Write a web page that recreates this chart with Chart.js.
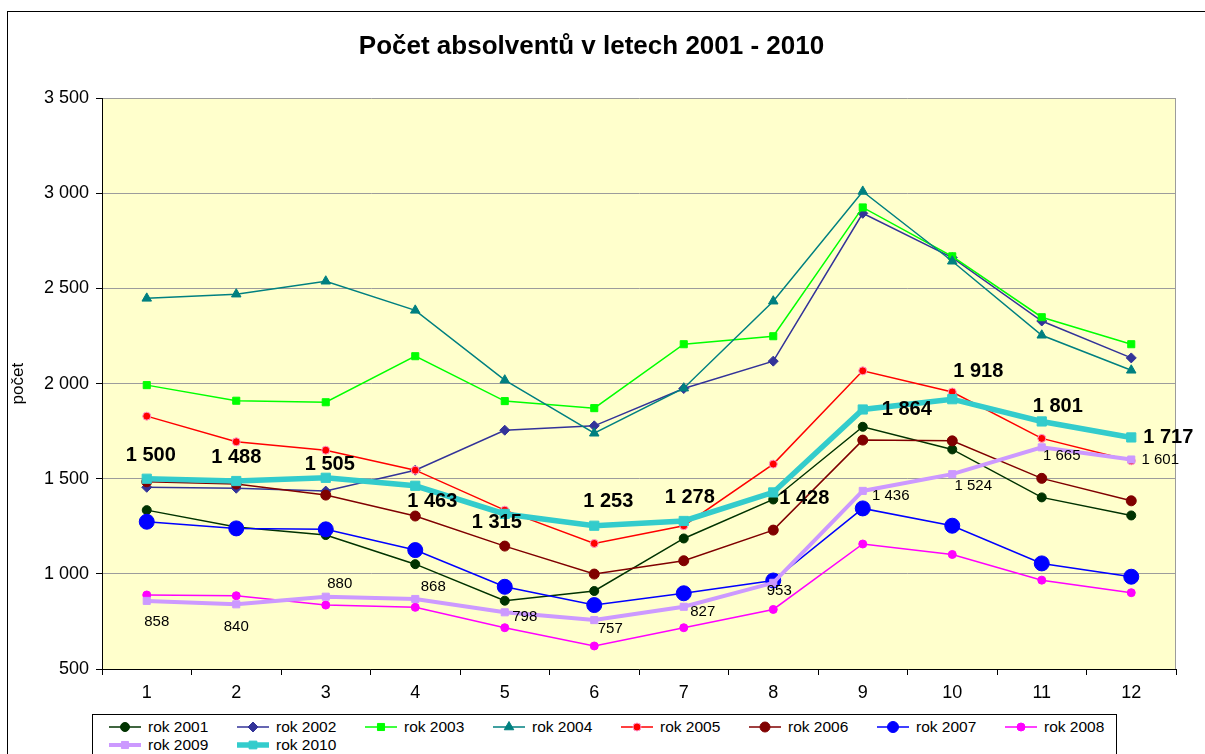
<!DOCTYPE html>
<html lang="cs">
<head>
<meta charset="UTF-8">
<title>Počet absolventů v letech 2001 - 2010</title>
<script src="https://cdn.jsdelivr.net/npm/chart.js"></script>
<style>
    body{margin:0;background:#fff;font-family:Arial,"Liberation Sans",sans-serif;}
    .wrap{position:relative;width:1205px;height:754px;overflow:hidden;}
    .frame{position:absolute;left:7px;top:11px;width:1300px;height:800px;border:1px solid #000;}
    #chart{position:absolute;left:0;top:0;}
    .legend{position:absolute;left:92px;top:714px;width:1023px;height:60px;border:1px solid #000;background:#fff;}
    .item{position:absolute;height:18px;font-size:15.5px;line-height:18px;color:#000;white-space:nowrap;}
    .item canvas{position:absolute;left:0;top:2px;}
    .item span{position:absolute;left:39px;top:0;}
</style>
</head>
<body>
<div class="wrap">
    <div class="frame"></div>
    <canvas id="chart" width="1205" height="754"></canvas>
    <div class="legend" id="legend"></div>
</div>
<script>
    // data
    const categories=['1','2','3','4','5','6','7','8','9','10','11','12'];
    const rok2001=[1335,1246,1204,1051,859,910,1186,1391,1773,1654,1402,1307];
    const rok2002=[1455,1450,1435,1545,1755,1778,1974,2118,2895,2662,2329,2135];
    const rok2003=[1992,1910,1902,2144,1908,1871,2207,2249,2926,2669,2349,2207];
    const rok2004=[2448,2470,2538,2385,2018,1739,1976,2433,3010,2643,2254,2070];
    const rok2005=[1829,1694,1650,1545,1335,1160,1253,1577,2067,1956,1712,1594];
    const rok2006=[1484,1472,1414,1304,1146,999,1069,1230,1703,1699,1502,1384];
    const rok2007=[1274,1239,1234,1125,932,836,898,965,1344,1253,1055,985];
    const rok2008=[889,885,836,824,717,621,717,813,1157,1102,967,901];
    const rok2009=[858,840,880,868,798,757,827,953,1436,1524,1665,1601];
    const rok2010=[1500,1488,1505,1463,1315,1253,1278,1428,1864,1918,1801,1717];
    const yTicks=[500,1000,1500,2000,2500,3000,3500];

    // label offsets (px) for the value labels of 2009 and 2010
    const offs2009=[[10,21],[0,23],[14,-13],[18,-12],[20,5],[16,9],[19,5],[6,8],[28,5],[21,12],[20,9],[29,0]];
    const offs2010=[[4,-23],[0,-24],[4,-13],[17,16],[-8,9],[14,-24],[6,-23],[31,6],[44,0],[26,-28],[16,-15],[37,0]];

    const fmt=v=>String(v).replace(/\B(?=(\d{3})+(?!\d))/g,' ');

    const series=[
        {label:'rok 2001',data:rok2001,color:'#003300',fill:'#003300',edge:'#003300',style:'circle',r:4.5,w:1.5},
        {label:'rok 2002',data:rok2002,color:'#333399',fill:'#333399',edge:'#333399',style:'rectRot',r:5,w:1.5},
        {label:'rok 2003',data:rok2003,color:'#00FF00',fill:'#00FF00',edge:'#00FF00',style:'rect',r:5,w:1.5},
        {label:'rok 2004',data:rok2004,color:'#008080',fill:'#008080',edge:'#008080',style:'triangle',r:5.5,w:1.5},
        {label:'rok 2005',data:rok2005,color:'#FF0000',fill:'#FF0000',edge:'#FF99CC',style:'circle',r:4,w:1.5},
        {label:'rok 2006',data:rok2006,color:'#800000',fill:'#800000',edge:'#800000',style:'circle',r:5,w:1.5},
        {label:'rok 2007',data:rok2007,color:'#0000FF',fill:'#0000FF',edge:'#0000FF',style:'circle',r:7.5,w:1.5},
        {label:'rok 2008',data:rok2008,color:'#FF00FF',fill:'#FF00FF',edge:'#FF00FF',style:'circle',r:4,w:1.5},
        {label:'rok 2009',data:rok2009,color:'#CC99FF',fill:'#CC99FF',edge:'#CC99FF',style:'rect',r:5,w:4},
        {label:'rok 2010',data:rok2010,color:'#33CCCC',fill:'#33CCCC',edge:'#33CCCC',style:'rect',r:6.5,w:5.5}
    ];

    const datasets=series.map((s,i)=>({
        label:s.label,
        data:s.data,
        borderColor:s.color,
        backgroundColor:s.fill,
        borderWidth:s.w,
        pointStyle:s.style,
        pointRadius:s.r,
        pointHoverRadius:s.r,
        pointBackgroundColor:s.fill,
        pointBorderColor:s.edge,
        pointBorderWidth:1,
        tension:0,
        order:10-i
    }));

    // yellow plot area and grey right border
    const plotBg={
        id:'plotBg',
        beforeDraw(chart){
            const {ctx,chartArea:a}=chart;
            ctx.save();
            ctx.fillStyle='#FFFFCC';
            ctx.fillRect(a.left,a.top,a.right-a.left,a.bottom-a.top);
            ctx.restore();
        },
        beforeDatasetsDraw(chart){
            const {ctx,chartArea:a}=chart;
            ctx.save();
            ctx.strokeStyle='#9C9C9C';
            ctx.lineWidth=1;
            ctx.beginPath();
            ctx.moveTo(a.right-0.5,a.top);
            ctx.lineTo(a.right-0.5,a.bottom);
            ctx.stroke();
            ctx.restore();
        }
    };

    // value labels for 2009 and 2010
    const valueLabels={
        id:'valueLabels',
        afterDatasetsDraw(chart){
            const ctx=chart.ctx;
            const sets=[[8,offs2009,'15px Arial'],[9,offs2010,'bold 20px Arial']];
            ctx.save();
            ctx.fillStyle='#000';
            ctx.textAlign='center';
            ctx.textBaseline='middle';
            sets.forEach(([idx,offs,font])=>{
                ctx.font=font;
                const vals=chart.data.datasets[idx].data;
                chart.getDatasetMeta(idx).data.forEach((pt,j)=>{
                    ctx.fillText(fmt(vals[j]),pt.x+offs[j][0],pt.y+offs[j][1]);
                });
            });
            ctx.restore();
        }
    };

    new Chart(document.getElementById('chart'),{
        type:'line',
        data:{labels:categories,datasets:datasets},
        options:{
            responsive:false,
            animation:false,
            events:[],
            layout:{padding:{left:7,top:20,right:29,bottom:53}},
            plugins:{
                legend:{display:false},
                tooltip:{enabled:false},
                title:{
                    display:true,
                    text:'Počet absolventů v letech 2001 - 2010',
                    color:'#000',
                    font:{family:'Arial',size:26,weight:'bold'},
                    padding:{top:11,bottom:36}
                }
            },
            scales:{
                x:{
                    offset:true,
                    grid:{offset:true,drawOnChartArea:false,tickLength:6,tickColor:'#000'},
                    border:{color:'#000',width:1},
                    ticks:{color:'#000',font:{family:'Arial',size:18},padding:7},
                    afterFit(scale){scale.height=32;}
                },
                y:{
                    min:500,
                    max:3500,
                    afterBuildTicks(scale){scale.ticks=yTicks.map(v=>({value:v}));},
                    grid:{color:'#9C9C9C',tickLength:6,tickColor:'#000'},
                    border:{color:'#000',width:1},
                    ticks:{color:'#000',font:{family:'Arial',size:18},padding:7,callback:v=>fmt(v)},
                    title:{display:true,text:'počet',color:'#000',font:{family:'Arial',size:17},padding:{top:1,bottom:0}},
                    afterFit(scale){scale.width=95;}
                }
            }
        },
        plugins:[plotBg,valueLabels]
    });

    // legend with line + marker samples
    const legend=document.getElementById('legend');
    series.forEach((s,i)=>{
        const item=document.createElement('div');
        item.className='item';
        item.style.left=(16+(i%8)*128)+'px';
        item.style.top=(3+Math.floor(i/8)*18)+'px';
        const c=document.createElement('canvas');
        c.width=32;c.height=14;
        const g=c.getContext('2d');
        g.strokeStyle=s.color;
        g.lineWidth=s.w;
        g.beginPath();g.moveTo(0,7);g.lineTo(32,7);g.stroke();
        g.fillStyle=s.fill;g.strokeStyle=s.edge;g.lineWidth=1;
        Chart.helpers.drawPoint(g,{pointStyle:s.style,radius:Math.min(s.r,5.5),rotation:0,borderWidth:1},16,7);
        const t=document.createElement('span');
        t.textContent=s.label;
        item.appendChild(c);item.appendChild(t);
        legend.appendChild(item);
    });
</script>
</body>
</html>
